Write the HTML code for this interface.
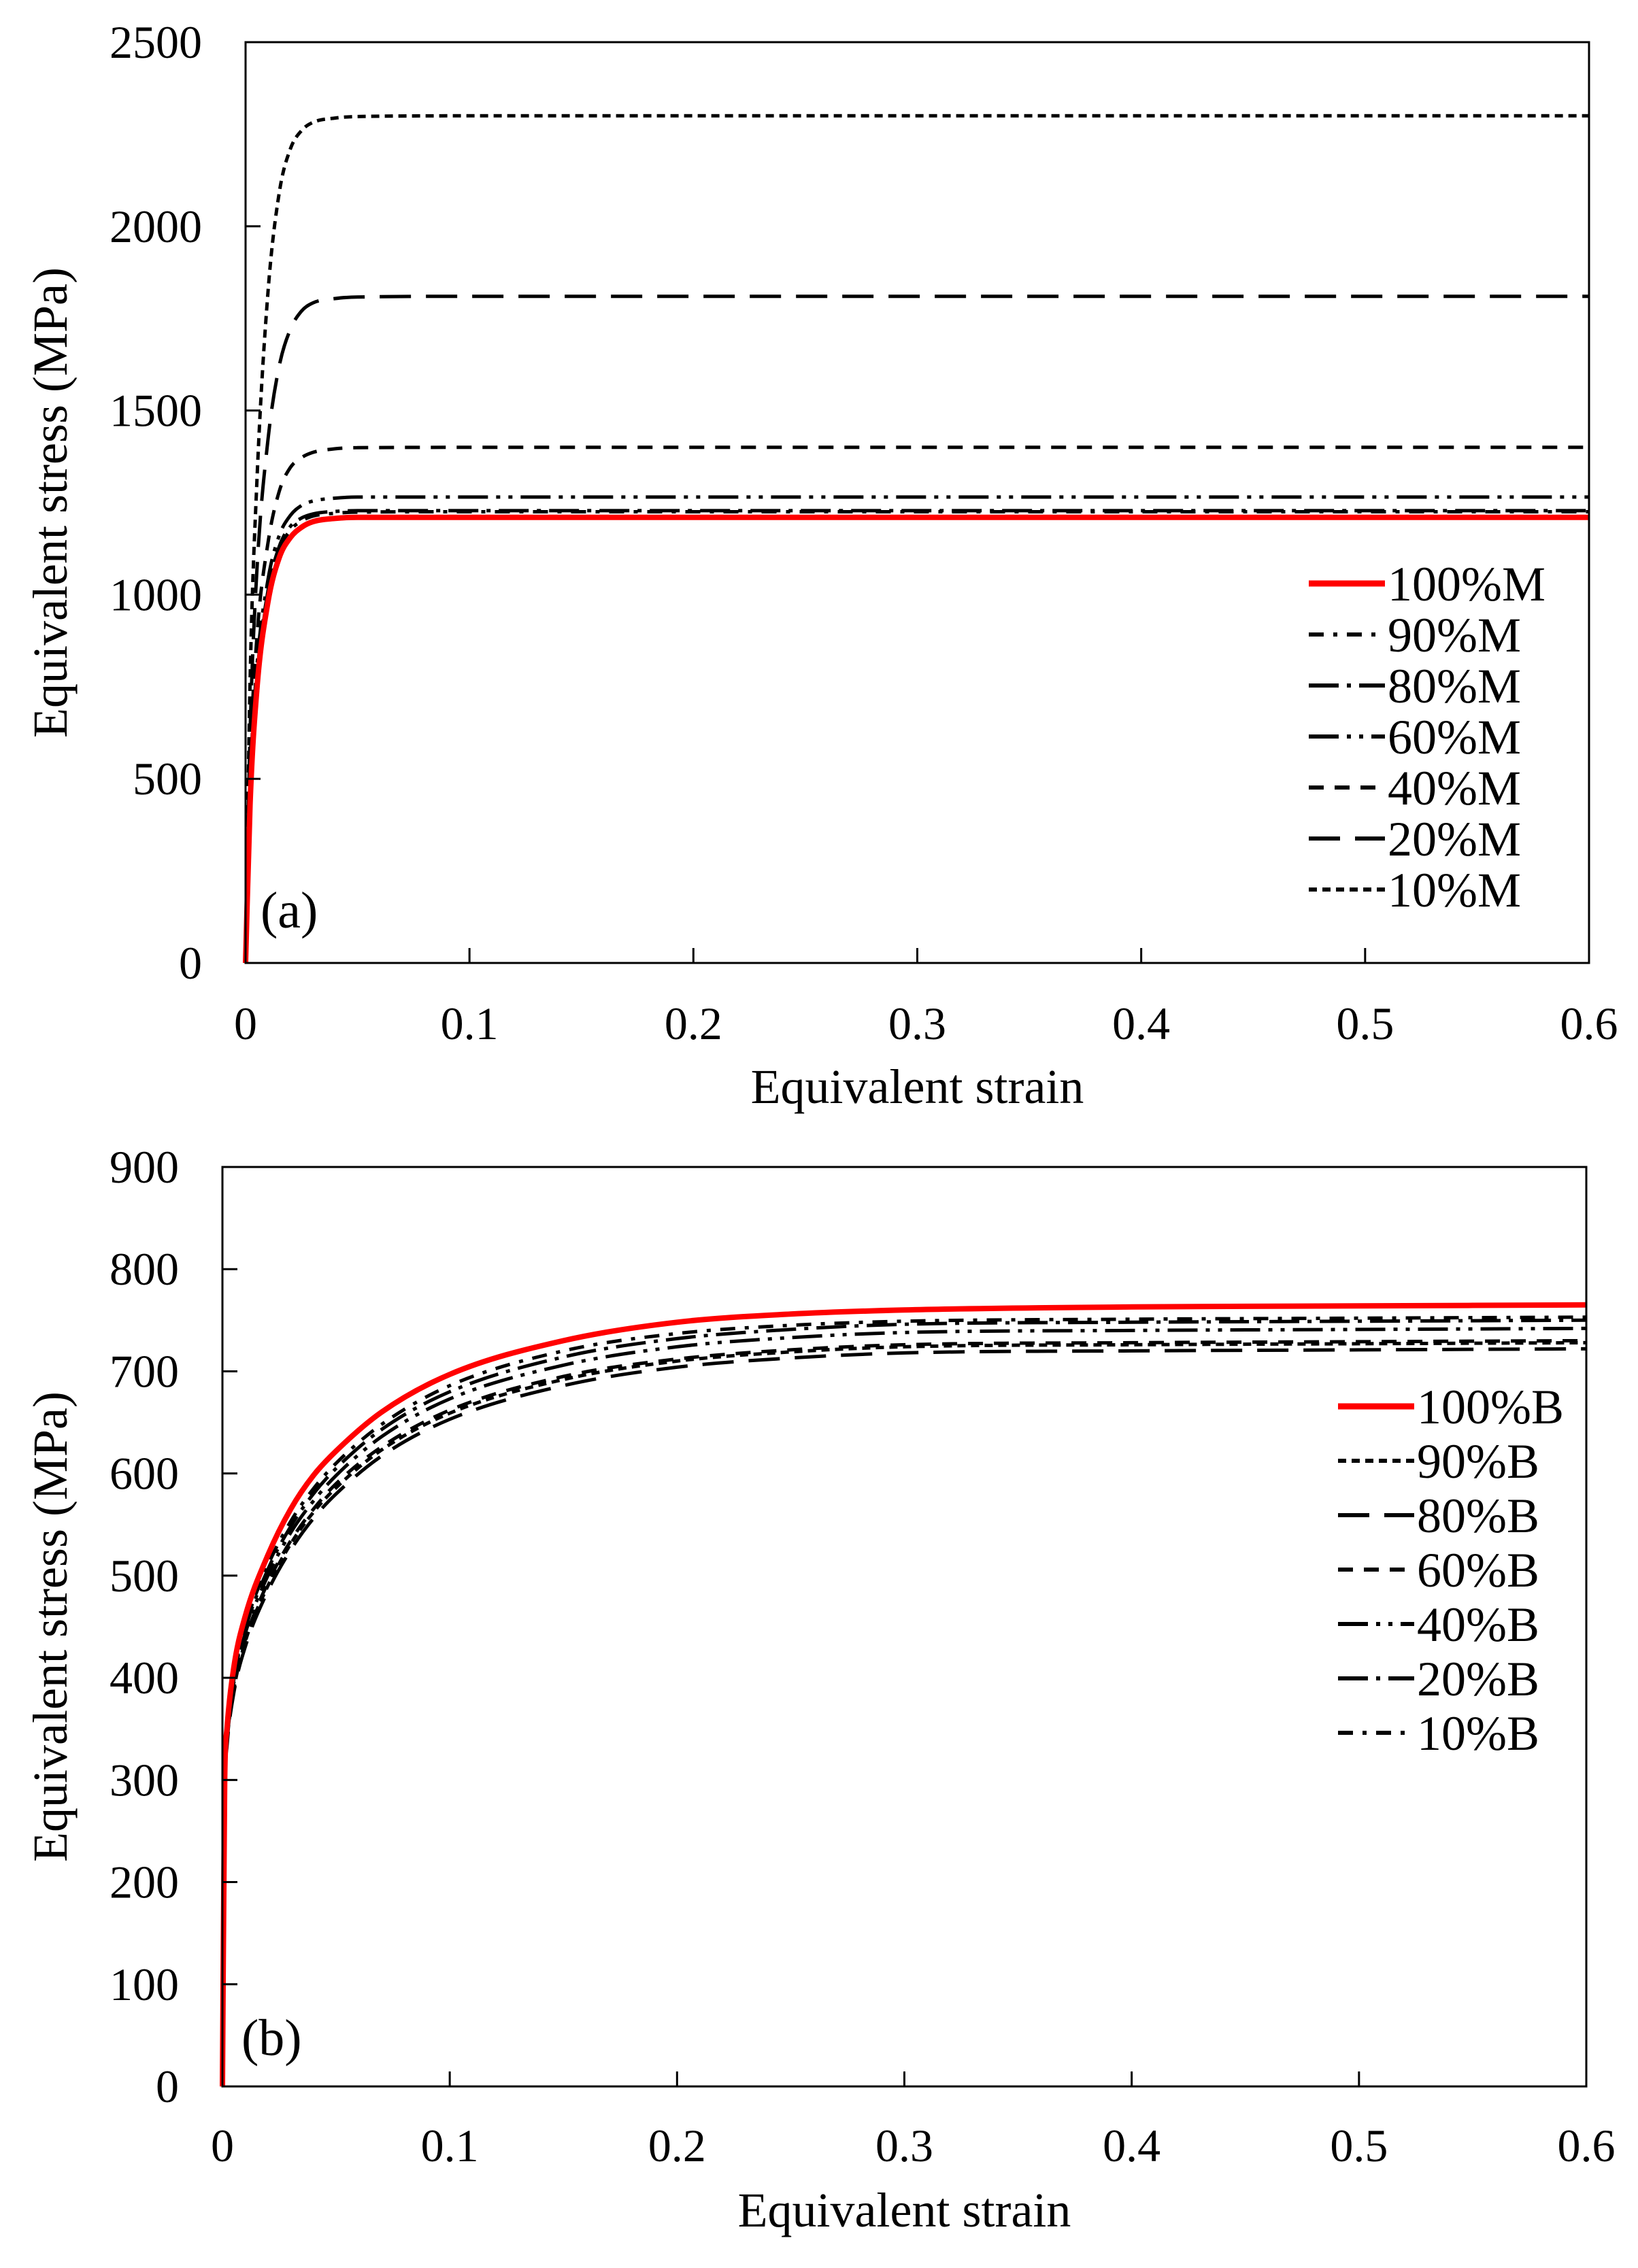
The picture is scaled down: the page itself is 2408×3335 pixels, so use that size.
<!DOCTYPE html>
<html><head><meta charset="utf-8">
<style>
html,body{margin:0;padding:0;background:#fff;}
svg{display:block;}
text{font-family:"Liberation Serif",serif;fill:#000;}
</style></head>
<body>
<svg id="fig" width="2408" height="3335" viewBox="0 0 2408 3335" xmlns="http://www.w3.org/2000/svg">
<g id="pa"></g>
<g id="pb"></g>
</svg>
<script>
// ---- Panel (a) data ----
const strainA = [0,0.002,0.005,0.01,0.015,0.02,0.025,0.03,0.04,0.05,0.1,0.2,0.3,0.4,0.5,0.6];
const m100 = [0,430,740,980,1100,1155,1183,1198,1207,1210,1210,1210,1210,1210,1210,1210];
const m90  = [0,450,760,1000,1120,1175,1200,1213,1221,1224,1225,1225,1225,1225,1225,1225];
const m80  = [0,460,770,1010,1130,1185,1208,1219,1226,1228,1228,1228,1228,1228,1228,1228];
const m60  = [0,480,800,1040,1160,1215,1242,1254,1262,1265,1265,1265,1265,1265,1265,1265];
const m40  = [0,530,880,1140,1280,1345,1372,1386,1396,1399,1400,1400,1400,1400,1400,1400];
const m20  = [0,620,1060,1420,1620,1720,1770,1792,1804,1808,1810,1810,1810,1810,1810,1810];
const m10  = [0,760,1300,1820,2090,2210,2260,2282,2294,2298,2300,2300,2300,2300,2300,2300];
const labelsA = ["100%M","90%M","80%M","60%M","40%M","20%M","10%M"];
const yTicksA = [0,500,1000,1500,2000,2500];
const xTicks = [0,0.1,0.2,0.3,0.4,0.5,0.6];
const xTickLabels = ["0","0.1","0.2","0.3","0.4","0.5","0.6"];

// ---- Panel (b) data ----
const strainB = [0,0.001,0.002,0.005,0.01,0.02,0.03,0.04,0.05,0.07,0.1,0.15,0.2,0.25,0.3,0.4,0.5,0.6];
const b100 = [0,300,350,410,460,520,565,598,622,660,697,730,748,756,760,763,764,765];
const b90  = [0,287,336,388,435,490,531,562,586,623,659,692,710,719,724,726,727,728];
const b80  = [0,285,333,385,430,485,525,556,580,617,653,686,704,713,718,720,721,722];
const b60  = [0,288,337,390,437,493,534,565,590,626,662,695,712,721,726,728,729,730];
const b40  = [0,290,340,395,443,500,542,573,598,636,673,706,724,733,738,740,741,742];
const b20  = [0,292,342,398,447,506,548,580,605,643,680,714,732,741,746,748,749,750];
const b10  = [0,295,345,400,450,510,553,585,610,648,686,720,737,745,749,751,752,753];
const labelsB = ["100%B","90%B","80%B","60%B","40%B","20%B","10%B"];
const yTicksB = [0,100,200,300,400,500,600,700,800,900];

const NS = "http://www.w3.org/2000/svg";
function mk(parent, tag, attrs){const e=document.createElementNS(NS,tag);for(const k in attrs)e.setAttribute(k,attrs[k]);parent.appendChild(e);return e;}

// monotone cubic path (Fritsch-Carlson) through pixel points
function monoPath(px, py){
  const n=px.length, d=[], m=new Array(n).fill(0);
  for(let i=0;i<n-1;i++) d.push((py[i+1]-py[i])/(px[i+1]-px[i]));
  m[0]=d[0]; m[n-1]=d[n-2];
  for(let i=1;i<n-1;i++){ m[i] = (d[i-1]*d[i]<=0)?0:(d[i-1]+d[i])/2; }
  for(let i=0;i<n-1;i++){
    if(d[i]===0){m[i]=0;m[i+1]=0;continue;}
    const a=m[i]/d[i], b=m[i+1]/d[i], s=a*a+b*b;
    if(s>9){const t=3/Math.sqrt(s);m[i]=t*a*d[i];m[i+1]=t*b*d[i];}
  }
  let p="M"+px[0].toFixed(1)+" "+py[0].toFixed(1);
  for(let i=0;i<n-1;i++){
    const h=(px[i+1]-px[i])/3;
    p+="C"+(px[i]+h).toFixed(1)+" "+(py[i]+m[i]*h).toFixed(1)+" "+(px[i+1]-h).toFixed(1)+" "+(py[i+1]-m[i+1]*h).toFixed(1)+" "+px[i+1].toFixed(1)+" "+py[i+1].toFixed(1);
  }
  return p;
}

const styles = {
  solidRed:{stroke:"#ff0000",w:8,dash:"none"},
  dashdot:{stroke:"#000",w:5,dash:"22 14 6 14"},
  longdot:{stroke:"#000",w:5,dash:"44 12 6 12"},
  longdotdot:{stroke:"#000",w:5,dash:"44 12 6 12 6 12"},
  medium:{stroke:"#000",w:5,dash:"22 16"},
  long:{stroke:"#000",w:5,dash:"46 22"},
  short:{stroke:"#000",w:5,dash:"12 8"}
};

function panel(g, cfg){
  const {L,R,T,B,ymax,yTicks,strain,series,labels,st,legX,legY,legDy,tag,tagX,tagY,ylabX,xlabY,xtlY,ytlX} = cfg;
  const sx = v => L + (R-L)*v/0.6;
  const sy = v => B - (B-T)*v/ymax;
  for(let s=series.length-1;s>=0;s--){
    const px=strain.map(sx), py=series[s].map(sy);
    const p = mk(g,"path",{d:monoPath(px,py),fill:"none",stroke:st[s].stroke,"stroke-width":st[s].w,"stroke-dasharray":st[s].dash,"stroke-linejoin":"round"});
    
    
  }
  const fr = mk(g,"rect",{x:L,y:T,width:R-L,height:B-T,fill:"none",stroke:"#000","stroke-width":3});
  
  
  xTicks.forEach((v,i)=>{
    if(i>0 && i<xTicks.length-1){
      const t=mk(g,"line",{x1:sx(v),x2:sx(v),y1:B,y2:B-22,stroke:"#000","stroke-width":3});
      
      
    }
    const tl=mk(g,"text",{x:sx(v),y:xtlY,"font-size":68,"text-anchor":"middle"});
    tl.textContent=xTickLabels[i];
    
    
  });
  yTicks.forEach((v,i)=>{
    if(i>0 && i<yTicks.length-1){
      const t=mk(g,"line",{x1:L,x2:L+22,y1:sy(v),y2:sy(v),stroke:"#000","stroke-width":3});
      
      
    }
    const tl=mk(g,"text",{x:ytlX,y:sy(v)+23,"font-size":68,"text-anchor":"end"});
    tl.textContent=String(v);
    
    
  });
  const xt=mk(g,"text",{x:(L+R)/2,y:xlabY,"font-size":72,"text-anchor":"middle"});
  xt.textContent="Equivalent strain";
  
  
  const cy=(T+B)/2;
  const yt=mk(g,"text",{x:ylabX,y:cy,"font-size":72,"text-anchor":"middle",transform:"rotate(-90 "+ylabX+" "+cy+")"});
  yt.textContent="Equivalent stress (MPa)";
  
  
  const pt=mk(g,"text",{x:tagX,y:tagY,"font-size":76});
  pt.textContent=tag;
  
  
  labels.forEach((lab,i)=>{
    const y=legY+i*legDy;
    const ln=mk(g,"line",{x1:legX,x2:legX+112,y1:y,y2:y,stroke:st[i].stroke,"stroke-width":st[i].w+1,"stroke-dasharray":st[i].dash});
    
    
    const lt=mk(g,"text",{x:legX+116,y:y+25,"font-size":72});
    lt.textContent=lab;
    
    
  });
}

panel(document.getElementById("pa"),{
  L:361,R:2336,T:62,B:1416,ymax:2500,yTicks:yTicksA,strain:strainA,
  series:[m100,m90,m80,m60,m40,m20,m10],labels:labelsA,
  st:[styles.solidRed,styles.dashdot,styles.longdot,styles.longdotdot,styles.medium,styles.long,styles.short],
  legX:1924,legY:858,legDy:75,tag:"(a)",tagX:383,tagY:1364,ylabX:98,xlabY:1622,xtlY:1528,ytlX:297
});
panel(document.getElementById("pb"),{
  L:327,R:2332,T:1716,B:3068,ymax:900,yTicks:yTicksB,strain:strainB,
  series:[b100,b90,b80,b60,b40,b20,b10],labels:labelsB,
  st:[styles.solidRed,styles.short,styles.long,styles.medium,styles.longdotdot,styles.longdot,styles.dashdot],
  legX:1967,legY:2068,legDy:80,tag:"(b)",tagX:355,tagY:3022,ylabX:98,xlabY:3274,xtlY:3178,ytlX:263
});
</script>
</body></html>
